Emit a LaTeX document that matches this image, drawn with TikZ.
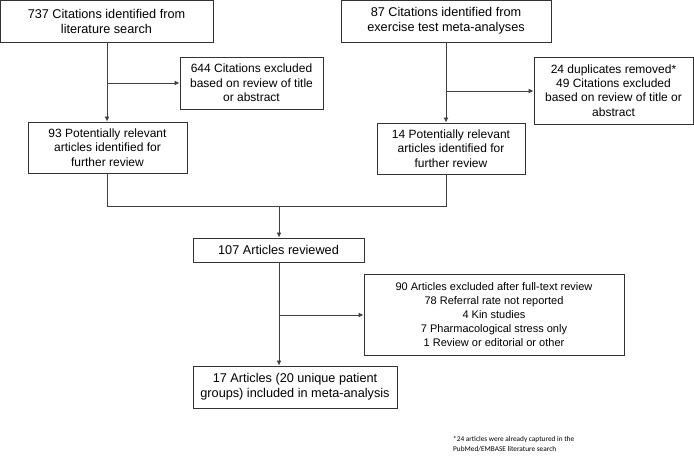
\documentclass[tikz,border=0pt]{standalone}
\usepackage{fontspec}
\setmainfont{Liberation Sans}
\newfontfamily\notefont{Carlito}
\usetikzlibrary{arrows.meta}

\tikzset{
  box/.style={draw=black!80, line width=0.9pt, align=center, inner sep=0pt,
    font=\fontsize{12}{14.3}\selectfont},
  bigbox/.style={box, font=\fontsize{12.7}{15}\selectfont},
  listbox/.style={box, font=\fontsize{11}{14.2}\selectfont},
  flow/.style={draw=black!75, line width=0.9pt},
  arr/.style={flow, -{Latex[length=5pt,width=5pt]}}
}

\begin{document}
\begin{tikzpicture}[x=1pt,y=-1pt]
\useasboundingbox (0,0) rectangle (694,462);

% left branch
\node[bigbox, minimum width=213pt, minimum height=42pt] (lit) at (106.5,21) {737 Citations identified from\\literature search};
\node[box, minimum width=143pt, minimum height=52pt] (exlit) at (251.5,83) {644 Citations excluded\\based on review of title\\or abstract};
\node[box, minimum width=159pt, minimum height=51pt] (potlit) at (107.5,147.5) {93 Potentially relevant\\articles identified for\\further review};

% right branch
\node[bigbox, minimum width=210pt, minimum height=42pt] (meta) at (446,21) {87 Citations identified from\\exercise test meta-analyses};
\node[box, minimum width=159pt, minimum height=67pt] (exmeta) at (613.5,90.5) {24 duplicates removed*\\49 Citations excluded\\based on review of title or\\abstract};
\node[box, minimum width=148pt, minimum height=51pt] (potmeta) at (451,148.5) {14 Potentially relevant\\articles identified for\\further review};

% merged
\node[bigbox, minimum width=171pt, minimum height=24pt] (rev) at (278.5,250) {107 Articles reviewed};
\node[listbox, minimum width=260pt, minimum height=81pt] (exfull) at (494,314.5) {90 Articles excluded after full-text review\\78 Referral rate not reported\\4 Kin studies\\7 Pharmacological stress only\\1 Review or editorial or other};
\node[bigbox, minimum width=204pt, minimum height=42pt] (incl) at (295,387) {17 Articles (20 unique patient\\groups) included in meta-analysis};

\node[anchor=north west, align=left, inner sep=0pt, font=\notefont\fontsize{7.3}{10}\selectfont] (note) at (453,436) {*24 articles were already captured in the\\PubMed/EMBASE literature search};

% branch points
\coordinate (bl) at (107,83);
\coordinate (br) at (446,91);
\coordinate (jl) at (107,206);
\coordinate (jr) at (446,206);
\coordinate (jm) at (279,206);
\coordinate (bm) at (279,315);

\draw[arr] (lit.south -| bl) -- (potlit.north -| bl);
\draw[arr] (bl) -- (exlit.west);
\draw[arr] (meta.south -| br) -- (potmeta.north -| br);
\draw[arr] (br) -- (exmeta.west |- br);
\draw[flow] (potlit.south -| jl) -- (jl) -- (jr) -- (potmeta.south -| jr);
\draw[arr] (jm) -- (rev.north -| jm);
\draw[arr] (rev.south -| jm) -- (incl.north -| jm);
\draw[arr] (bm) -- (exfull.west |- bm);

\end{tikzpicture}
\end{document}
